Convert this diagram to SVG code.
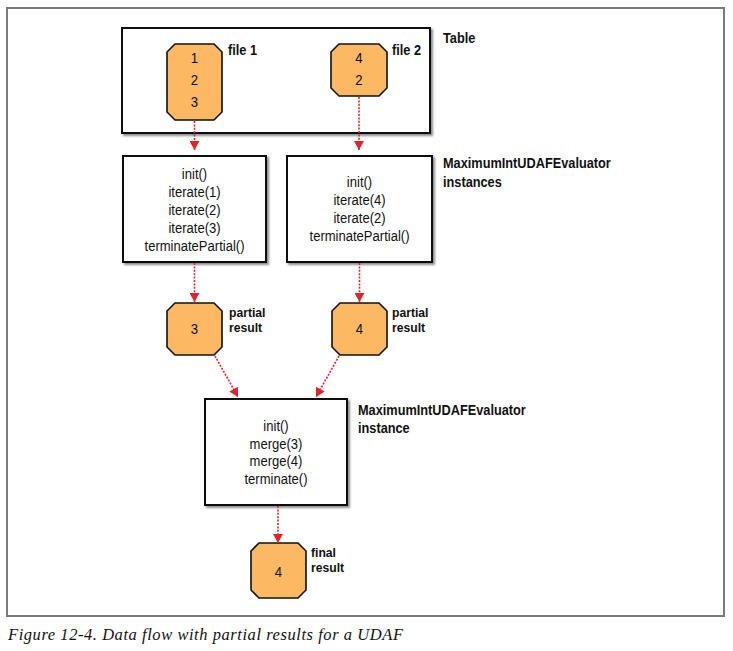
<svg xmlns="http://www.w3.org/2000/svg" width="733" height="651" viewBox="0 0 733 651">
<style>
.frame{fill:#fff;stroke:#7a7a7a;stroke-width:2}
.box{fill:#fff;stroke:#111;stroke-width:2;filter:url(#sh)}
.oct{fill:#fdb863;stroke:#111;stroke-width:1.6}
.t{font-family:"Liberation Sans",Arial,sans-serif;font-size:14.5px;fill:#111;text-anchor:middle}
.n{font-family:"Liberation Sans",Arial,sans-serif;font-size:15.5px;fill:#111;text-anchor:middle}
.lbl{font-family:"Liberation Sans",Arial,sans-serif;font-size:14.5px;font-weight:bold;fill:#111}
.lbs{font-family:"Liberation Sans",Arial,sans-serif;font-size:13.5px;font-weight:bold;fill:#111}
.cap{font-family:"Liberation Serif","Times New Roman",serif;font-size:16.5px;font-style:italic;fill:#111}
.con{stroke:#e0242b;stroke-width:1.6;stroke-dasharray:2 1.4;fill:none;marker-end:url(#ah)}
</style>
<defs>
<filter id="sh" x="-10%" y="-10%" width="130%" height="130%">
<feDropShadow dx="2" dy="2" stdDeviation="1.2" flood-color="#000" flood-opacity="0.45"/>
</filter>
<marker id="ah" markerUnits="userSpaceOnUse" markerWidth="12" markerHeight="10" refX="9" refY="5" orient="auto" viewBox="0 0 9 10">
<path d="M0,0 L9,5 L0,10 z" fill="#e0242b"/>
</marker>
</defs>
<rect class="frame" x="7" y="8" width="717" height="608"/>

<g id="table">
<rect class="box" x="122" y="28" width="308" height="105"/>
<g transform="translate(443 0) scale(0.88 1)"><text class="lbl" x="0" y="43">Table</text></g>
</g>
<g id="file1">
<polygon class="oct" points="175,44 214,44 222,52 222,112 214,120 175,120 167,112 167,52"/>
<g transform="translate(194.5 0) scale(0.85 1)">
<text class="n" x="0" y="63.5">1</text>
<text class="n" x="0" y="85.5">2</text>
<text class="n" x="0" y="107.5">3</text>
</g>
<g transform="translate(228 0) scale(0.88 1)"><text class="lbl" x="0" y="55">file 1</text></g>
</g>
<g id="file2">
<polygon class="oct" points="339,44 379,44 387,52 387,88 379,96 339,96 331,88 331,52"/>
<g transform="translate(359 0) scale(0.85 1)">
<text class="n" x="0" y="63.5">4</text>
<text class="n" x="0" y="85.5">2</text>
</g>
<g transform="translate(392 0) scale(0.88 1)"><text class="lbl" x="0" y="55">file 2</text></g>
</g>

<g id="eval1">
<rect class="box" x="123" y="156" width="143" height="106"/>
<g transform="translate(194.5 0) scale(0.9 1)">
<text class="t" x="0" y="179.5">init()</text>
<text class="t" x="0" y="197.5">iterate(1)</text>
<text class="t" x="0" y="215.5">iterate(2)</text>
<text class="t" x="0" y="233.5">iterate(3)</text>
<text class="t" x="0" y="251.5">terminatePartial()</text>
</g>
</g>
<g id="eval2">
<rect class="box" x="287" y="156" width="145" height="106"/>
<g transform="translate(359.5 0) scale(0.9 1)">
<text class="t" x="0" y="187.5">init()</text>
<text class="t" x="0" y="205.5">iterate(4)</text>
<text class="t" x="0" y="223.5">iterate(2)</text>
<text class="t" x="0" y="241.5">terminatePartial()</text>
</g>
</g>
<g id="eval-label" transform="translate(443 0) scale(0.88 1)">
<text class="lbl" x="0" y="168">MaximumIntUDAFEvaluator</text>
<text class="lbl" x="0" y="187">instances</text>
</g>

<g id="partial1">
<polygon class="oct" points="175,303 214,303 222,311 222,347 214,355 175,355 167,347 167,311"/>
<g transform="translate(194.5 0) scale(0.85 1)"><text class="n" x="0" y="334.5">3</text></g>
<g transform="translate(229 0) scale(0.9 1)">
<text class="lbs" x="0" y="317.5">partial</text>
<text class="lbs" x="0" y="332.5">result</text>
</g>
</g>
<g id="partial2">
<polygon class="oct" points="340,303 379,303 387,311 387,347 379,355 340,355 332,347 332,311"/>
<g transform="translate(359.5 0) scale(0.85 1)"><text class="n" x="0" y="334.5">4</text></g>
<g transform="translate(392 0) scale(0.9 1)">
<text class="lbs" x="0" y="317.5">partial</text>
<text class="lbs" x="0" y="332.5">result</text>
</g>
</g>

<g id="merge">
<rect class="box" x="205" y="399" width="142" height="106"/>
<g transform="translate(276 0) scale(0.9 1)">
<text class="t" x="0" y="431.5">init()</text>
<text class="t" x="0" y="449">merge(3)</text>
<text class="t" x="0" y="466.5">merge(4)</text>
<text class="t" x="0" y="484">terminate()</text>
</g>
<g transform="translate(358 0) scale(0.88 1)">
<text class="lbl" x="0" y="415">MaximumIntUDAFEvaluator</text>
<text class="lbl" x="0" y="433">instance</text>
</g>
</g>

<g id="final">
<polygon class="oct" points="259,543 298,543 306,551 306,590 298,598 259,598 251,590 251,551"/>
<g transform="translate(278.5 0) scale(0.85 1)"><text class="n" x="0" y="577">4</text></g>
<g transform="translate(311 0) scale(0.9 1)">
<text class="lbs" x="0" y="557.5">final</text>
<text class="lbs" x="0" y="572.5">result</text>
</g>
</g>

<g id="connectors">
<path class="con" d="M194.5,121 L194.5,150"/>
<path class="con" d="M359,97 L359,150"/>
<path class="con" d="M194.5,263 L194.5,302"/>
<path class="con" d="M359.5,263 L359.5,302"/>
<path class="con" d="M215,356 L238,397"/>
<path class="con" d="M339,356 L316,397"/>
<path class="con" d="M278,506 L278,543"/>
</g>

<text class="cap" x="8" y="640" textLength="395" lengthAdjust="spacing">Figure 12-4. Data flow with partial results for a UDAF</text>
</svg>
